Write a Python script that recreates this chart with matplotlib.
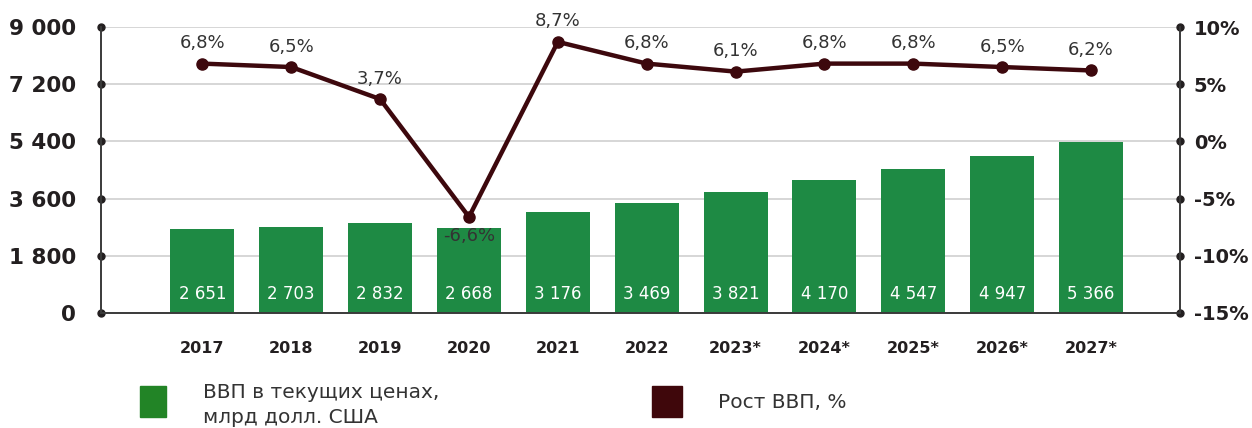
import matplotlib.pyplot as plt
from matplotlib.patches import Rectangle

# Data
years = ['2017', '2018', '2019', '2020', '2021', '2022',
         '2023*', '2024*', '2025*', '2026*', '2027*']
gdp = [2651, 2703, 2832, 2668, 3176, 3469, 3821, 4170, 4547, 4947, 5366]
growth = [6.8, 6.5, 3.7, -6.6, 8.7, 6.8, 6.1, 6.8, 6.8, 6.5, 6.2]
left_ticks = [0, 1800, 3600, 5400, 7200, 9000]
left_labels = ['0', '1 800', '3 600', '5 400', '7 200', '9 000']
right_ticks = [-15, -10, -5, 0, 5, 10]
right_labels = ['-15%', '-10%', '-5%', '0%', '5%', '10%']

bar_color = '#1e8a44'
line_color = '#3d080d'
axis_color = '#231f20'

plt.rcParams['font.family'] = ['DejaVu Sans']

fig = plt.figure(figsize=(12.52, 4.28), dpi=100)
ax = fig.add_axes([101 / 1252, 1 - 313 / 428, (1180 - 101) / 1252, (313 - 27) / 428])
ax2 = ax.twinx()

x = list(range(len(years)))

# Bars
ax.bar(x, gdp, width=0.72, color=bar_color, zorder=2)
for xi, v in zip(x, gdp):
    s = f'{v:,}'.replace(',', ' ')
    ax.text(xi, 300, s, ha='center', va='bottom', color='white', fontsize=12, zorder=3)

ax.set_xlim(-1.14, 11.0)
ax.set_ylim(0, 9000)
ax.set_yticks(left_ticks)
ax.set_yticklabels(left_labels, fontsize=15.5, fontweight='bold', color=axis_color)
ax.set_xticks(x)
ax.set_xticklabels(years, fontsize=11.5, fontweight='bold', color=axis_color)
ax.tick_params(axis='x', length=0, pad=20)
ax.tick_params(axis='y', length=6, width=1, pad=12, color=axis_color)
ax.grid(axis='y', color='#cfcfcf', linewidth=1.2, zorder=0)
ax.set_axisbelow(True)

# Line
ax2.plot(x, growth, color=line_color, linewidth=3.2, marker='o', markersize=8, zorder=4)
for xi, v in zip(x, growth):
    s = f'{v:.1f}%'.replace('.', ',')
    if v < 0:
        ax2.text(xi, v - 0.9, s, ha='center', va='top', color='#333333', fontsize=13, zorder=5)
    else:
        ax2.text(xi, v + 1.0, s, ha='center', va='bottom', color='#333333', fontsize=13, zorder=5)
ax2.set_ylim(-15, 10)
ax2.set_yticks(right_ticks)
ax2.set_yticklabels(right_labels, fontsize=14, fontweight='bold', color=axis_color)
ax2.tick_params(axis='y', length=6, width=1, pad=4, color=axis_color)

# dot-shaped tick marks
for a in (ax, ax2):
    for t in a.yaxis.get_major_ticks():
        t.tick1line.set_marker('o')
        t.tick2line.set_marker('o')
        t.tick1line.set_markersize(5)
        t.tick2line.set_markersize(5)

for a in (ax, ax2):
    a.spines['top'].set_visible(False)
    for side in ('left', 'right', 'bottom'):
        a.spines[side].set_color('#3a3a3a')
        a.spines[side].set_linewidth(1.2)

# Legend
fig.patches.append(Rectangle((140 / 1252, 1 - 417 / 428), 26 / 1252, 31 / 428,
                             transform=fig.transFigure, color='#228426'))
fig.text(203 / 1252, 1 - 405 / 428, 'ВВП в текущих ценах,\nмлрд долл. США',
         ha='left', va='center', fontsize=14.5, color='#333333', linespacing=1.45)
fig.patches.append(Rectangle((652 / 1252, 1 - 417 / 428), 30 / 1252, 31 / 428,
                             transform=fig.transFigure, color='#3f070b'))
fig.text(718 / 1252, 1 - 402 / 428, 'Рост ВВП, %',
         ha='left', va='center', fontsize=14.5, color='#333333')

fig.savefig('out.png', dpi=100)
